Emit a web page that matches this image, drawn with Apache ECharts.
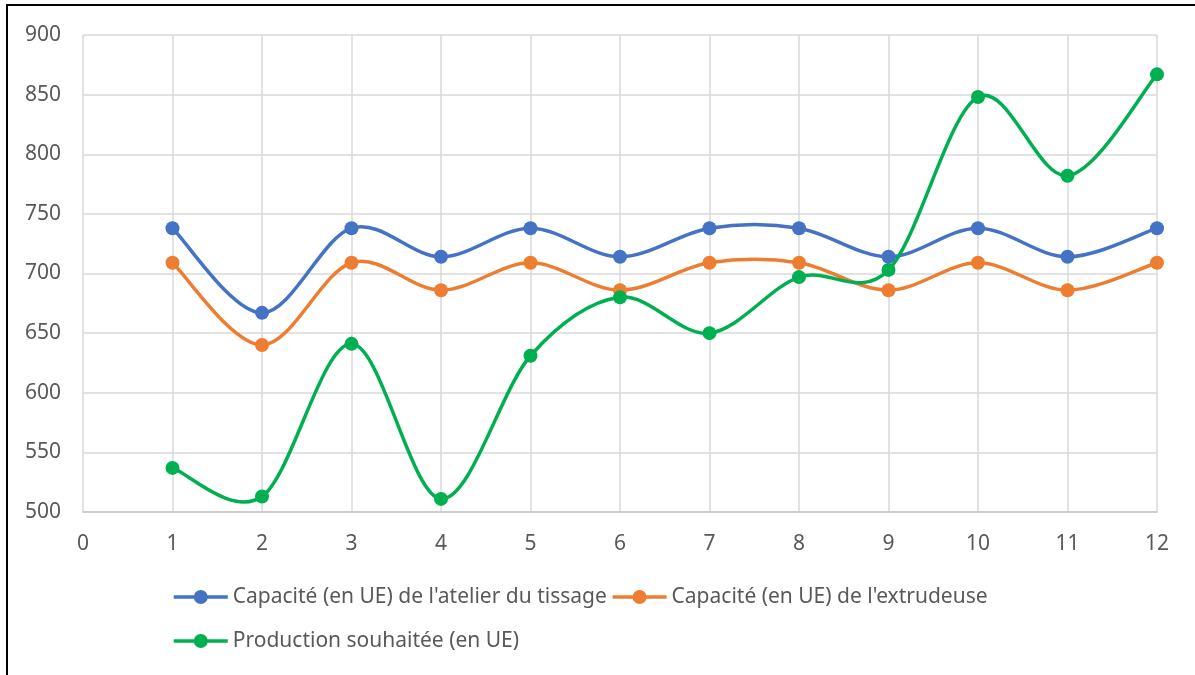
<!DOCTYPE html>
<html>
<head>
<meta charset="utf-8">
<script src="https://cdn.jsdelivr.net/npm/echarts@6/dist/echarts.min.js"></script>
<style>
  html, body { margin: 0; padding: 0; background: #ffffff; }
  #chart { width: 1195px; height: 675px; }
</style>
</head>
<body>
<div id="chart"></div>
<script>
// Period numbers along the horizontal axis
const periods = [1, 2, 3, 4, 5, 6, 7, 8, 9, 10, 11, 12];

// Series names
const nameTissage = "Capacité (en UE) de l'atelier du tissage";
const nameExtrudeuse = "Capacité (en UE) de l'extrudeuse";
const nameProduction = "Production souhaitée (en UE)";

// Values per period (UE)
const capaciteTissage = [738, 667, 738, 714, 738, 714, 738, 738, 714, 738, 714, 738];
const capaciteExtrudeuse = [709, 640, 709, 686, 709, 686, 709, 709, 686, 709, 686, 709];
const productionSouhaitee = [537, 513, 641, 511, 631, 680, 650, 697, 703, 848, 782, 867];

// Axis bounds and tick steps
const xMin = 0, xMax = 12, xStep = 1;
const yMin = 500, yMax = 900, yStep = 50;

const FONT = "'Noto Sans', 'Open Sans', sans-serif";
const TEXT_COLOR = '#595959';
const GRID_COLOR = '#d9d9d9';
const LINE_WIDTH = 3.5;

function pairs(values) {
  return periods.map((p, i) => [p, values[i]]);
}

// Smoothed curve: one cubic Bezier per segment, control points taken from
// the neighbouring points (tangent = (next - prev) / 6, capped at half the segment).
function curveSeries(values, color) {
  return {
    type: 'custom',
    data: pairs(values),
    encode: { x: 0, y: 1 },
    silent: true,
    animation: false,
    renderItem: function (params, api) {
      const i = params.dataIndex;
      const n = values.length;
      if (i >= n - 1) return null;
      const pt = k => api.coord([periods[k], values[k]]);
      const p0 = pt(Math.max(i - 1, 0));
      const p1 = pt(i);
      const p2 = pt(i + 1);
      const p3 = pt(Math.min(i + 2, n - 1));
      const seg = Math.hypot(p2[0] - p1[0], p2[1] - p1[1]);
      function handle(a, b) {
        let hx = (b[0] - a[0]) / 6, hy = (b[1] - a[1]) / 6;
        const len = Math.hypot(hx, hy);
        if (len > seg / 2 && len > 0) {
          const s = (seg / 2) / len;
          hx *= s; hy *= s;
        }
        return [hx, hy];
      }
      const h1 = handle(p0, p2);
      const h2 = handle(p1, p3);
      return {
        type: 'bezierCurve',
        shape: {
          x1: p1[0], y1: p1[1],
          x2: p2[0], y2: p2[1],
          cpx1: p1[0] + h1[0], cpy1: p1[1] + h1[1],
          cpx2: p2[0] - h2[0], cpy2: p2[1] - h2[1]
        },
        style: { stroke: color, lineWidth: LINE_WIDTH, fill: null, lineCap: 'round' }
      };
    }
  };
}

// Markers at each point (line itself hidden; the legend shows line + marker)
function markerSeries(name, values, color) {
  return {
    name: name,
    type: 'line',
    data: pairs(values),
    symbol: 'circle',
    symbolSize: 14,
    showAllSymbol: true,
    lineStyle: { color: color, width: LINE_WIDTH, opacity: 0 },
    itemStyle: { color: color, borderWidth: 0 },
    emphasis: { disabled: true },
    animation: false
  };
}

const legendCommon = {
  orient: 'horizontal',
  padding: 0,
  itemWidth: 54, itemHeight: 17.5, itemGap: 4,
  lineStyle: { width: LINE_WIDTH, opacity: 1 },
  textStyle: { color: TEXT_COLOR, fontSize: 21, lineHeight: 24, fontFamily: FONT },
  selectedMode: false
};

const chart = echarts.init(document.getElementById('chart'), null, { renderer: 'canvas' });

chart.setOption({
  backgroundColor: '#ffffff',
  animation: false,
  textStyle: { fontFamily: FONT },
  graphic: [{
    type: 'rect',
    shape: { x: 7, y: 5, width: 1200, height: 700 },
    style: { fill: 'none', stroke: '#000000', lineWidth: 2 },
    silent: true
  }],
  grid: { left: 83, right: 38, top: 35, bottom: 163, containLabel: false },
  xAxis: {
    type: 'value',
    min: xMin, max: xMax, interval: xStep,
    axisLine: { show: true, lineStyle: { color: '#c6c6c6', width: 1.5 } },
    axisTick: { show: false },
    axisLabel: { color: TEXT_COLOR, fontSize: 21, fontFamily: FONT, margin: 22 },
    splitLine: { show: true, lineStyle: { color: GRID_COLOR, width: 1.5 } }
  },
  yAxis: {
    type: 'value',
    min: yMin, max: yMax, interval: yStep,
    axisLine: { show: false },
    axisTick: { show: false },
    axisLabel: { color: TEXT_COLOR, fontSize: 21, fontFamily: FONT, margin: 22 },
    splitLine: { show: true, lineStyle: { color: GRID_COLOR, width: 1.5 } }
  },
  legend: [
    Object.assign({ data: [nameTissage, nameExtrudeuse], left: 172, top: 585 }, legendCommon),
    Object.assign({ data: [nameProduction], left: 172, top: 629 }, legendCommon)
  ],
  series: [
    curveSeries(capaciteTissage, '#4472c4'),
    markerSeries(nameTissage, capaciteTissage, '#4472c4'),
    curveSeries(capaciteExtrudeuse, '#ed7d31'),
    markerSeries(nameExtrudeuse, capaciteExtrudeuse, '#ed7d31'),
    curveSeries(productionSouhaitee, '#00b050'),
    markerSeries(nameProduction, productionSouhaitee, '#00b050')
  ]
});
</script>
</body>
</html>
